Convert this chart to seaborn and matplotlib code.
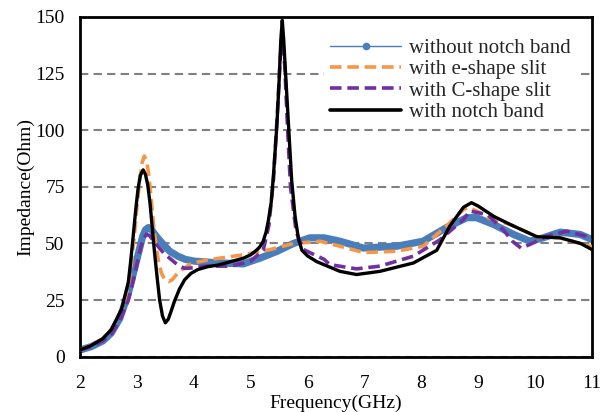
import matplotlib.pyplot as plt
import seaborn as sns
import pandas as pd
from matplotlib.lines import Line2D

# without notch band
f_without = [2.0, 2.2, 2.4, 2.55, 2.7, 2.85, 2.95, 3.05, 3.1, 3.15, 3.2, 3.25, 3.3, 3.38, 3.45, 3.58,
             3.72, 3.85, 4.01, 4.4, 4.87, 5.16, 5.46, 5.75, 6.04, 6.29, 6.57, 6.98, 7.57, 8.03, 8.44,
             8.8, 8.97, 9.27, 9.62, 9.91, 10.14, 10.44, 10.79, 11.0]
z_without = [3, 4.5, 7, 10.5, 17, 28, 38, 48, 53, 56, 57, 56.5, 54.5, 52, 50, 46.5,
             44.4, 43, 42.2, 41.5, 41, 43.5, 46.5, 50, 52.5, 52.5, 51, 48, 48.8, 51, 57,
             61.4, 61.4, 58.4, 54, 51, 52.5, 55, 54, 51.7]

# with e-shape slit
f_eshape = [2.0, 2.2, 2.4, 2.55, 2.73, 2.85, 2.9, 2.95, 3.0, 3.05, 3.09, 3.13, 3.17, 3.21, 3.25, 3.29,
            3.33, 3.38, 3.43, 3.49, 3.56, 3.62, 3.72, 3.82, 3.95, 4.1, 4.31, 4.87, 5.34, 5.75, 6.22,
            6.57, 6.98, 7.57, 8.03, 8.44, 8.74, 8.83, 9.0, 9.16, 9.56, 10.03, 10.44, 10.96, 11.0]
z_eshape = [3, 5, 8, 12, 20, 31, 41, 52, 66, 78, 85.5, 88.6, 86.5, 80, 70, 59,
            50, 42, 37, 34, 33.2, 34, 37, 39, 41, 42, 43, 45, 47.3, 50, 51,
            48.8, 46, 46.6, 48.8, 57.7, 65, 66, 64, 61.4, 58.4, 53, 52.5, 48.8, 48.5]

# with C-shape slit
f_cshape = [2.0, 2.2, 2.4, 2.55, 2.7, 2.85, 2.95, 3.02, 3.07, 3.12, 3.17, 3.22, 3.3, 3.37, 3.48, 3.6,
            3.72, 3.84, 4.0, 4.19, 4.64, 4.99, 5.22, 5.32, 5.4, 5.47, 5.52, 5.555, 5.6, 5.65, 5.7,
            5.8, 5.93, 6.29, 6.39, 6.86, 7.27, 7.86, 8.33, 8.74, 8.85, 9.16, 9.44, 9.6, 9.75, 9.91,
            10.2, 10.55, 10.9, 11.0]
z_cshape = [3, 4.5, 7, 10, 16, 25, 35, 43, 48.5, 52.5, 54, 53.5, 51, 48.8, 45.5, 43,
            40.5, 39, 39.3, 40, 40, 42, 47, 58, 78, 108, 132, 142, 128, 100, 75,
            55, 47.3, 43, 40.7, 38.8, 40, 44.4, 51.7, 60.6, 64.3, 62.8, 56, 51, 48, 49.6,
            53.2, 55.4, 53.2, 52]

# with notch band
f_notch = [2.0, 2.2, 2.4, 2.55, 2.73, 2.85, 2.89, 2.93, 2.98, 3.02, 3.06, 3.11, 3.15, 3.19, 3.23, 3.27,
           3.31, 3.36, 3.4, 3.45, 3.5, 3.55, 3.6, 3.66, 3.75, 3.84, 3.95, 4.07, 4.25, 4.43, 4.87,
           5.0, 5.1, 5.16, 5.22, 5.27, 5.31, 5.36, 5.4, 5.46, 5.5, 5.53, 5.555, 5.58, 5.62, 5.67,
           5.72, 5.78, 5.84, 5.9, 6.0, 6.16, 6.35, 6.57, 6.86, 7.27, 7.86, 8.27, 8.5, 8.74, 8.88,
           9.0, 9.27, 9.56, 10.03, 10.44, 10.8, 11.0]
z_notch = [3, 5, 8, 12, 21, 33, 42, 52, 65, 74, 80, 82.5, 80.5, 76, 68, 57,
           46, 34, 25, 18, 15, 16.5, 20, 24.5, 30, 34, 36.8, 38.5, 39.8, 40.5, 43.5,
           45, 47, 48.5, 51, 55, 60, 68, 80, 102, 122, 140, 148.5, 140, 122, 100,
           78, 62, 52, 47, 44.5, 42, 40, 37.7, 36.3, 37.7, 41.4, 47, 57.7, 66, 68,
           66.5, 62, 58.4, 53, 52.5, 50, 47.3]

c_blue = "#4a7ebb"
c_orange = "#f79646"
c_purple = "#7030a0"

sns.set_theme(style="white")
plt.rcParams['font.family'] = ['Liberation Serif', 'DejaVu Serif']

fig, ax = plt.subplots(figsize=(6.06, 4.12), dpi=100)
fig.subplots_adjust(left=0.132, right=0.977, top=0.959, bottom=0.134)

sns.lineplot(x=f_without, y=z_without, ax=ax, color=c_blue, linewidth=5.2, sort=False, zorder=2)
sns.lineplot(x=f_eshape, y=z_eshape, ax=ax, color=c_orange, linewidth=2.6, sort=False, zorder=3)
ax.lines[-1].set_dashes([3.2, 1.6])
sns.lineplot(x=f_cshape, y=z_cshape, ax=ax, color=c_purple, linewidth=2.6, sort=False, zorder=4)
ax.lines[-1].set_dashes([3.2, 1.6])
sns.lineplot(x=f_notch, y=z_notch, ax=ax, color="black", linewidth=2.4, sort=False, zorder=5)

ax.set_xlim(2, 11)
ax.set_ylim(0, 150)
ax.set_xticks(range(2, 12))
ax.set_yticks(range(0, 151, 25))
ax.yaxis.grid(True, color="#808080", linestyle=(0, (4, 2.5)), linewidth=1.5)
ax.set_axisbelow(True)
for s in ax.spines.values():
    s.set_color("black")
    s.set_linewidth(2)
ax.tick_params(direction="in", length=5, width=1.5, color="black", labelsize=14, labelcolor="black")
ax.tick_params(axis="x", pad=13)
ax.tick_params(axis="y", pad=11)

ax.set_xlabel("Frequency(GHz)", fontsize=14, color="black", labelpad=2)
ax.set_ylabel("Impedance(Ohm)", fontsize=14, color="black", labelpad=1)

handles = [
    Line2D([], [], color=c_blue, linewidth=1, marker="o", markersize=4.5),
    Line2D([], [], color=c_orange, linewidth=2.6, dashes=[3.2, 1.6]),
    Line2D([], [], color=c_purple, linewidth=2.6, dashes=[3.2, 1.6]),
    Line2D([], [], color="black", linewidth=2.6),
]
labels = ["without notch band", "with e-shape slit", "with C-shape slit", "with notch band"]
leg = ax.legend(handles, labels, loc="upper right", bbox_to_anchor=(0.99, 0.985), fontsize=15,
                frameon=True, facecolor="white", edgecolor="none", framealpha=1, fancybox=False,
                handlelength=3.4, labelspacing=0.08, handletextpad=0.35, borderpad=0.3)

fig.savefig("out.png", dpi=100)
